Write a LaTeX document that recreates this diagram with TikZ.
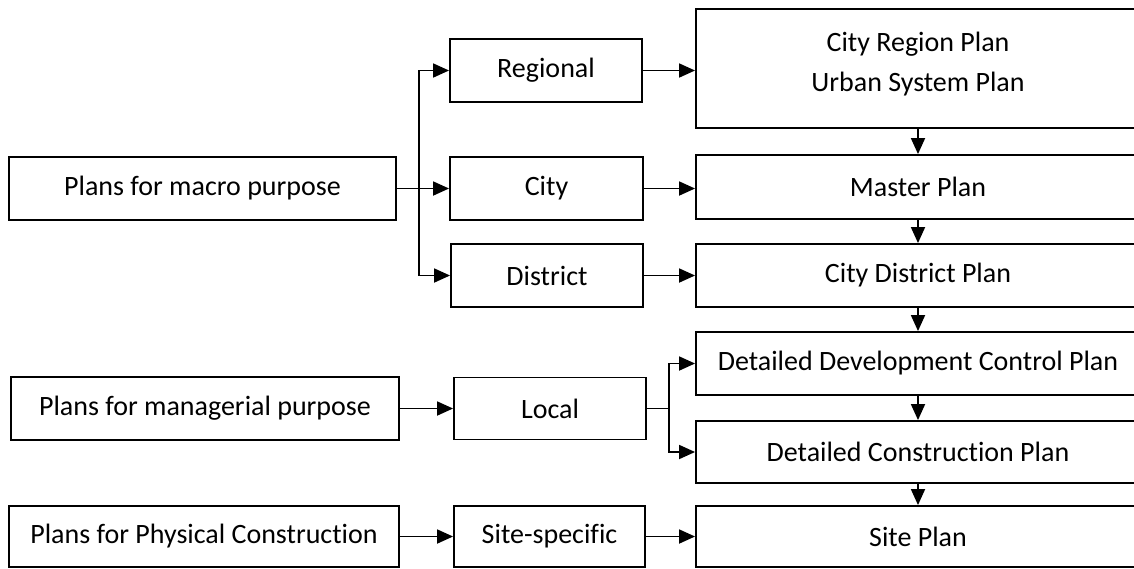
\documentclass[tikz,border=0pt]{standalone}
\usepackage{fontspec}
\setmainfont{Carlito}[Ligatures={NoCommon}]
\usetikzlibrary{arrows.meta}
\begin{document}
\begin{tikzpicture}[x=1pt,y=-1pt,
  box/.style={draw=black,line width=1.9pt,rectangle,inner sep=0pt,align=center,font=\fontsize{28}{34}\selectfont},
  conn/.style={line width=1.8pt,-{Triangle[length=16pt,width=14pt]}},
  plain/.style={line width=1.8pt}]
\useasboundingbox (0,0) rectangle (1134,568);
\clip (0,0) rectangle (1134,568);
% left column
\node[box,minimum width=387pt,minimum height=63pt] (macro) at (202.5,188.5) {Plans for macro purpose};
\node[box,minimum width=388pt,minimum height=63pt] (manag) at (205,408.5) {Plans for managerial purpose};
\node[box,minimum width=390pt,minimum height=61pt] (phys) at (204,536.5) {Plans for Physical Construction};
% middle column
\node[box,minimum width=192pt,minimum height=63pt] (regional) at (546,70.5) {Regional};
\node[box,minimum width=193pt,minimum height=63pt] (city) at (546.5,188.5) {City};
\node[box,minimum width=192pt,minimum height=63pt] (district) at (547,275.5) {District};
\node[box,minimum width=192pt,minimum height=62pt] (local) at (550,408.5) {Local};
\node[box,minimum width=191pt,minimum height=61pt] (sitespec) at (549.5,536.5) {Site-specific};
% right column
\node[box,minimum width=444pt,minimum height=119pt,text depth=14pt] (crp) at (918,68.5) {City Region Plan\\[6pt]Urban System Plan};
\node[box,minimum width=444pt,minimum height=64pt] (master) at (918,187) {Master Plan};
\node[box,minimum width=444pt,minimum height=63pt] (cdp) at (918,275.5) {City District Plan};
\node[box,minimum width=444pt,minimum height=63pt] (ddcp) at (918,363.5) {Detailed Development Control Plan};
\node[box,minimum width=444pt,minimum height=62pt] (dcp) at (918,452) {Detailed Construction Plan};
\node[box,minimum width=444pt,minimum height=61pt] (site) at (918,536.5) {Site Plan};
% branch points
\coordinate (jm) at (419,188.5);
\coordinate (jl) at (669,408.5);
% connectors
\draw[conn] (macro.east) -- (city.west);
\draw[conn] (jm) |- (regional.west);
\draw[conn] (jm) |- (district.west);
\draw[conn] (regional.east) -- (regional.east -| crp.west);
\draw[conn] (city.east) -- (city.east -| master.west);
\draw[conn] (district.east) -- (district.east -| cdp.west);
\draw[conn] (crp.south) -- (master.north);
\draw[conn] (master.south) -- (cdp.north);
\draw[conn] (cdp.south) -- (ddcp.north);
\draw[conn] (ddcp.south) -- (dcp.north);
\draw[conn] (dcp.south) -- (site.north);
\draw[conn] (manag.east) -- (local.west);
\draw[plain] (local.east) -- (jl);
\draw[conn] (jl) |- (ddcp.west);
\draw[conn] (jl) |- (dcp.west);
\draw[conn] (phys.east) -- (sitespec.west);
\draw[conn] (sitespec.east) -- (site.west);
\end{tikzpicture}
\end{document}
